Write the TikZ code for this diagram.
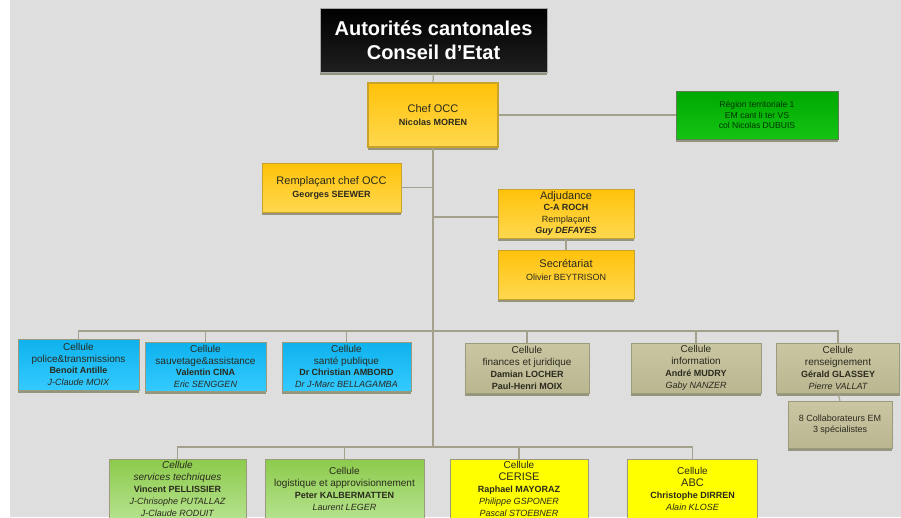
\documentclass[tikz,border=0pt]{standalone}
\usepackage{fontspec}
\setmainfont{Liberation Sans}
\usetikzlibrary{shadows}
\definecolor{bgc}{HTML}{DEDEDE}
\definecolor{connc}{HTML}{A3A18B}
\definecolor{shc}{HTML}{8E8C72}
\definecolor{orT}{HTML}{FFC20A}
\definecolor{orB}{HTML}{FFD84F}
\definecolor{orD}{HTML}{C9A22A}
\definecolor{grT}{HTML}{00A800}
\definecolor{grB}{HTML}{14C414}
\definecolor{grD}{HTML}{5C7C52}
\definecolor{blT}{HTML}{0EB2EE}
\definecolor{blB}{HTML}{34CAFF}
\definecolor{khT}{HTML}{CAC6A2}
\definecolor{khB}{HTML}{BAB690}
\definecolor{khD}{HTML}{9C9A7C}
\definecolor{lgT}{HTML}{8CCB4C}
\definecolor{lgB}{HTML}{B6E28E}
\definecolor{yeF}{HTML}{FFFF00}
\definecolor{txt}{HTML}{2A2A1E}
\definecolor{itx}{HTML}{454545}
\newcommand\pnm[1]{{\fontsize{9}{11.5}\selectfont\bfseries #1}}
\newcommand\pit[1]{{\fontsize{9}{11.5}\selectfont\itshape #1}}
\newcommand\pno[1]{{\fontsize{9}{11.5}\selectfont #1}}
\tikzset{
  box/.style={rectangle, inner sep=0pt, align=center, text=txt,
    font=\fontsize{10}{11.8}\selectfont,
    drop shadow={shadow xshift=0pt, shadow yshift=-2.5pt, fill=shc, opacity=0.9}},
  titlebox/.style={box, draw=gray!70, line width=0.8pt, top color=black, bottom color=black!88,
    text=white, font=\fontsize{20}{24}\selectfont\bfseries},
  obox/.style={box, draw=orD, line width=0.8pt, top color=orT, bottom color=orB,
    font=\fontsize{11}{13}\selectfont},
  gbox/.style={box, draw=grD, line width=0.6pt, top color=grT, bottom color=grB,
    text=black!80!green, font=\fontsize{8.6}{10.5}\selectfont},
  bbox/.style={box, draw=khD, line width=0.6pt, top color=blT, bottom color=blB},
  kbox/.style={box, draw=khD, line width=0.6pt, top color=khT, bottom color=khB},
  lbox/.style={box, draw=khD, line width=0.6pt, top color=lgT, bottom color=lgB},
  ybox/.style={box, draw=khD, line width=0.6pt, fill=yeF},
  conn/.style={draw=connc, line width=1.2pt},
}
\begin{document}
\begin{tikzpicture}[x=1pt,y=-1pt]
\useasboundingbox (0,0) rectangle (901,517);
\clip (0,0) rectangle (901,517);
\fill[white] (0,0) rectangle (901,517);
\fill[bgc] (10,0) rectangle (901,517);

% nodes
\node[titlebox, minimum width=227, minimum height=64] (title) at (433.5,40)
  {Autorités cantonales\\Conseil d’Etat};
\node[obox, line width=1.3pt, minimum width=130, minimum height=64] (chef) at (433,115)
  {Chef OCC\\\pnm{Nicolas MOREN}};
\node[gbox, minimum width=162, minimum height=48] (region) at (757,115)
  {Région territoriale 1\\EM cant li ter VS\\col Nicolas DUBUIS};
\node[obox, minimum width=139, minimum height=49] (rempl) at (331.5,187.5)
  {Remplaçant chef OCC\\\pnm{Georges SEEWER}};
\node[obox, font=\fontsize{11}{11.5}\selectfont, minimum width=136, minimum height=49] (adjud) at (566,213.5)
  {Adjudance\\\pnm{C-A ROCH}\\\pno{Remplaçant}\\{\fontsize{9}{11.5}\selectfont\bfseries\itshape Guy DEFAYES}};
\node[obox, minimum width=136, minimum height=49] (secret) at (566,274.5)
  {Secrétariat\\\pno{Olivier BEYTRISON}\\[-4pt]\mbox{}};

\node[bbox, minimum width=121, minimum height=51] (b1) at (78.5,364.5)
  {Cellule\\police\&transmissions\\\pnm{Benoit Antille}\\\pit{J-Claude MOIX}};
\node[bbox, minimum width=121, minimum height=49] (b2) at (205.5,366.5)
  {Cellule\\sauvetage\&assistance\\\pnm{Valentin CINA}\\\pit{Eric SENGGEN}};
\node[bbox, minimum width=129, minimum height=49] (b3) at (346.5,366.5)
  {Cellule\\santé publique\\\pnm{Dr Christian AMBORD}\\\pit{Dr J-Marc BELLAGAMBA}};

\node[kbox, minimum width=124, minimum height=50] (k1) at (527,368)
  {Cellule\\finances et juridique\\\pnm{Damian LOCHER}\\\pnm{Paul-Henri MOIX}};
\node[kbox, minimum width=130, minimum height=50] (k2) at (696,368)
  {Cellule\\information\\\pnm{André MUDRY}\\\pit{Gaby NANZER}};
\node[kbox, minimum width=123, minimum height=50] (k3) at (838,368)
  {Cellule\\renseignement\\\pnm{Gérald GLASSEY}\\\pit{Pierre VALLAT}};
\node[kbox, font=\fontsize{9}{11.5}\selectfont, minimum width=104, minimum height=47] (collab) at (840,424.5)
  {8 Collaborateurs EM\\3 spécialistes};

\node[lbox, minimum width=137, minimum height=60] (g1) at (177.5,489)
  {\itshape Cellule\\\itshape services techniques\\\pnm{Vincent PELLISSIER}\\\pit{J-Chrisophe PUTALLAZ}\\\pit{J-Claude RODUIT}};
\node[lbox, minimum width=159, minimum height=60] (g2) at (344.5,489)
  {Cellule\\logistique et approvisionnement\\\pnm{Peter KALBERMATTEN}\\\pit{Laurent LEGER}};
\node[ybox, minimum width=138, minimum height=60] (y1) at (519,489)
  {Cellule\\{\fontsize{11}{11.5}\selectfont CERISE}\\\pnm{Raphael MAYORAZ}\\\pit{Philippe GSPONER}\\\pit{Pascal STOEBNER}};
\node[ybox, minimum width=130, minimum height=60] (y2) at (692.5,489)
  {Cellule\\{\fontsize{11}{11.5}\selectfont ABC}\\\pnm{Christophe DIRREN}\\\pit{Alain KLOSE}};

% connectors
\coordinate (lbus) at (433,447);
\coordinate (bus) at (433,331);
\coordinate (aj) at (433,217);
\draw[conn] (title.south) -- (chef.north);
\draw[conn] (chef.south) -- (lbus);
\draw[conn] (chef.east) -- (region.west);
\draw[conn] (rempl.east) -- (rempl.east -| chef.south);
\draw[conn] (aj) -- (aj -| adjud.west);
\draw[conn] (adjud.south) -- (secret.north);
\draw[conn] (b1.north) -- (b1.north |- bus) -- (k3.north |- bus) -- (k3.north);
\foreach \n in {b2,b3,k1,k2} \draw[conn] (\n.north) -- (\n.north |- bus);
\draw[conn] (k3.south) -- (collab.north);
\draw[conn] (g1.north) -- (g1.north |- lbus) -- (y2.north |- lbus) -- (y2.north);
\foreach \n in {g2,y1} \draw[conn] (\n.north) -- (\n.north |- lbus);
\end{tikzpicture}
\end{document}
